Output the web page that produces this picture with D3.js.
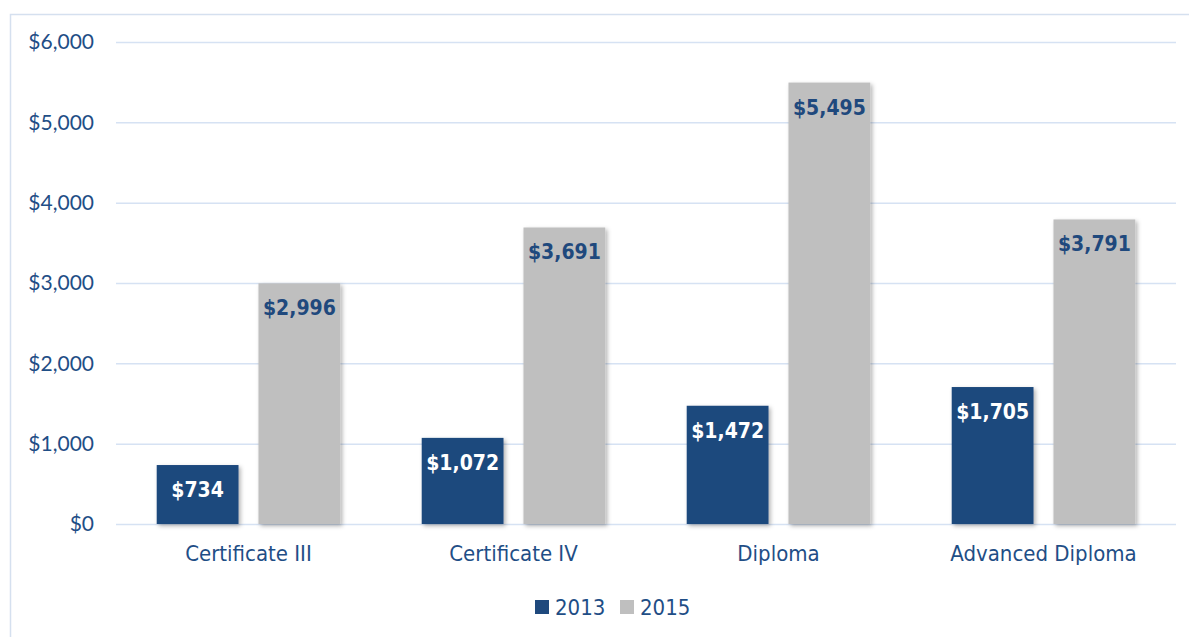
<!DOCTYPE html>
<html>
<head>
<meta charset="utf-8">
<script src="https://cdn.jsdelivr.net/npm/d3@7"></script>
<style>
  body { margin: 0; background: #fff; }
  svg { display: block; }
</style>
</head>
<body>
<svg width="1189" height="637"></svg>
<script>
const categories = ["Certificate III", "Certificate IV", "Diploma", "Advanced Diploma"]
const years = ["2013", "2015"]
const values2013 = [734, 1072, 1472, 1705]
const values2015 = [2996, 3691, 5495, 3791]
const yTicks = [0, 1000, 2000, 3000, 4000, 5000, 6000]

const colors = { "2013": "#1f497d", "2015": "#bfbfbf" }
const labelColors = { "2013": "#ffffff", "2015": "#1f497d" }
const textColor = "#1f4e86"
const narrow = "'Liberation Sans Narrow', 'DejaVu Sans Condensed', sans-serif"

const svg = d3.select("svg")
const width = +svg.attr("width")
const height = +svg.attr("height")

// shadow under the bars
const defs = svg.append("defs")
const f = defs.append("filter").attr("id", "shadow")
  .attr("x", "-20%").attr("y", "-20%").attr("width", "140%").attr("height", "140%")
f.append("feDropShadow").attr("dx", 2).attr("dy", 2).attr("stdDeviation", 2)
  .attr("flood-color", "#000").attr("flood-opacity", 0.3)

// outer frame
svg.append("rect")
  .attr("x", 10.5).attr("y", 14.5)
  .attr("width", width + 20).attr("height", height + 20)
  .attr("fill", "none").attr("stroke", "#d5e0ef").attr("stroke-width", 1.5)

const plot = { left: 116, right: 1176, top: 42, bottom: 524 }

const x = d3.scaleBand().domain(categories).range([plot.left, plot.right])
const x1 = d3.scaleBand().domain(years).range([0, x.bandwidth()])
  .paddingInner(0.196).paddingOuter(0.4)
const y = d3.scaleLinear().domain([0, 6000]).range([plot.bottom, plot.top])

// gridlines
svg.append("g").selectAll("line").data(yTicks).enter().append("line")
  .attr("x1", plot.left).attr("x2", plot.right)
  .attr("y1", d => y(d) + 0.5).attr("y2", d => y(d) + 0.5)
  .attr("stroke", "#d6e2f3").attr("stroke-width", 1.5)

// y labels
const fmt = d3.format("$,")
svg.append("g").selectAll("text").data(yTicks).enter().append("text")
  .attr("x", 94).attr("y", d => y(d))
  .attr("dy", "0.35em")
  .attr("text-anchor", "end")
  .attr("font-family", "Lato, sans-serif")
  .attr("font-size", "21px")
  .attr("fill", textColor)
  .text(d => fmt(d))

const rows = categories.map((c, i) => ({
  cat: c,
  vals: [{ year: "2013", v: values2013[i] }, { year: "2015", v: values2015[i] }]
}))

const groups = svg.append("g").selectAll("g").data(rows).enter().append("g")
  .attr("transform", d => `translate(${x(d.cat)},0)`)

groups.selectAll("rect").data(d => d.vals).enter().append("rect")
  .attr("x", d => x1(d.year))
  .attr("width", x1.bandwidth())
  .attr("y", d => y(d.v))
  .attr("height", d => y(0) - y(d.v))
  .attr("fill", d => colors[d.year])
  .attr("filter", "url(#shadow)")

groups.selectAll("text.val").data(d => d.vals).enter().append("text")
  .attr("class", "val")
  .attr("x", d => x1(d.year) + x1.bandwidth() / 2)
  .attr("y", d => y(d.v) + 32)
  .attr("text-anchor", "middle")
  .attr("font-family", "'DejaVu Sans Condensed', sans-serif")
  .attr("font-weight", "bold")
  .attr("font-size", "21px")
  .attr("fill", d => labelColors[d.year])
  .text(d => fmt(d.v))

// category labels
svg.append("g").selectAll("text").data(categories).enter().append("text")
  .attr("x", d => x(d) + x.bandwidth() / 2)
  .attr("y", 561)
  .attr("text-anchor", "middle")
  .attr("font-family", narrow)
  .attr("font-size", "22px")
  .attr("fill", textColor)
  .text(d => d)

// legend
const legendItems = [
  { year: "2013", x: 535 },
  { year: "2015", x: 620 }
]
const lg = svg.append("g").selectAll("g").data(legendItems).enter().append("g")
  .attr("transform", d => `translate(${d.x},600)`)
lg.append("rect").attr("width", 14).attr("height", 14).attr("fill", d => colors[d.year])
lg.append("text").attr("x", 20).attr("y", 15)
  .attr("font-family", narrow).attr("font-size", "22px").attr("fill", textColor)
  .text(d => d.year)
</script>
</body>
</html>
